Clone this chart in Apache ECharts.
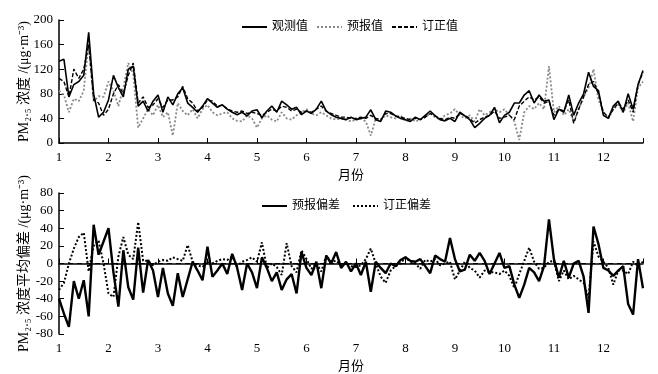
<!DOCTYPE html>
<html>
<head>
<meta charset="utf-8">
<title>PM2.5</title>
<script src="https://cdn.jsdelivr.net/npm/echarts/dist/echarts.min.js"></script>
<style>
    html, body {margin: 0; padding: 0; background: #fff;}
    #pm_chart {width: 658px; height: 374px;}
</style>
</head>
<body>
<div id="pm_chart"></div>
<script>
// 每隔0.1个月取一个值, 1月初到12月下旬
var obsList = [133,136,75,95,100,110,180,80,42,50,
    70,110,90,75,120,125,60,68,52,68,
    78,50,75,62,80,90,65,58,50,60,
    72,65,58,62,55,50,46,50,44,52,
    54,41,52,60,50,68,62,55,58,46,
    52,48,55,68,52,46,42,40,38,42,
    38,40,42,54,38,35,52,50,44,40,
    38,35,42,38,45,52,44,38,36,40,
    35,50,44,38,25,32,40,45,58,33,
    45,50,65,65,78,85,65,78,68,70,
    38,55,50,78,45,65,80,115,92,85,
    45,40,60,68,50,80,55,95,118];   //观测值
var predList = [85,78,50,72,68,85,165,68,76,75,
    100,85,60,90,130,112,25,40,55,45,
    62,42,50,12,65,52,45,55,40,55,
    62,50,45,48,50,40,36,35,45,40,
    25,40,45,38,35,50,40,38,45,50,
    55,48,45,50,45,40,38,40,38,35,
    38,40,35,12,40,38,45,42,40,45,
    35,40,35,38,42,48,42,38,45,48,
    55,45,40,45,35,55,45,50,55,50,
    55,45,35,5,50,60,55,65,55,125,
    50,60,45,55,35,55,75,90,120,70,
    50,40,55,62,50,65,35,90,100];   //预报值
var corrList = [105,100,75,120,105,120,160,70,65,45,
    55,80,95,80,110,130,65,75,58,62,
    72,58,70,70,75,92,72,65,52,58,
    70,68,60,62,55,52,50,52,48,50,
    48,45,50,55,52,60,58,52,55,50,
    52,50,55,60,52,48,45,42,42,40,
    40,42,40,45,40,38,48,48,44,42,
    40,38,40,38,42,48,44,40,38,42,
    40,48,45,40,32,38,42,45,52,40,
    42,45,38,60,68,75,70,75,65,68,
    45,55,52,70,32,55,75,95,100,80,
    50,42,55,65,55,70,50,95,115];   //订正值
var fcBiasList = [-40,-57,-72,-20,-40,-19,-60,44,10,25,
    40,-10,-49,15,-27,-41,18,-33,4,-8,
    -38,-5,-34,-48,-11,-38,-18,2,-8,-19,
    19,-15,-8,0,-12,11,-5,-30,0,-10,
    -28,7,-5,-20,-10,-30,-18,-12,-34,13,
    -5,-13,2,-28,9,0,13,-5,2,-9,
    0,-13,2,-32,2,-5,-11,0,-3,4,
    7,3,2,5,-3,-11,9,5,2,29,
    5,-9,-7,10,3,12,3,-12,0,12,
    -5,-3,-24,-39,-24,-5,-10,-20,-3,50,
    5,-16,3,-16,0,3,-15,-56,42,22,
    -5,-8,-14,-8,-3,-46,-58,5,-28];  //预报偏差
var crBiasList = [-30,-22,0,17,30,35,-9,20,26,0,
    -34,-38,8,30,10,5,47,3,3,-2,
    2,4,3,7,5,3,21,2,-2,-4,
    2,0,3,5,4,8,-3,2,4,7,
    2,24,-5,0,-4,-13,23,-3,-10,15,
    5,-6,0,-9,9,2,3,-2,0,-3,
    -4,-2,5,17,0,-15,-22,-8,-3,0,
    7,2,0,-6,4,2,5,-2,0,2,
    -18,-8,2,-5,-8,-16,-8,-10,-10,-12,
    -8,-14,-28,-12,3,18,2,-6,-5,2,
    3,-20,-8,-18,-14,-18,-22,-39,25,8,
    2,-5,-24,-8,-8,-12,2,-3,2];      //订正偏差

var monthTicks = [1,2,3,4,5,6,7,8,9,10,11,12];
var fontFamily = '"Liberation Serif", "Noto Sans CJK SC", serif';

function toPairs(list) {
    var arr = [];
    for (var i = 0; i < list.length; i++) {
        arr.push([1 + i / 10, list[i]]);   //横坐标为月份
    }
    return arr;
}

function makeXAxis(gridIndex) {
    return {
        type: 'value',
        gridIndex: gridIndex,
        min: 1,
        max: 12.8,
        interval: 1,
        name: '月份',
        nameLocation: 'middle',
        nameGap: 26,
        nameTextStyle: {color: '#000', fontSize: 13, fontFamily: fontFamily},
        axisLine: {lineStyle: {color: '#000', width: 1.5}},
        axisTick: {inside: true, length: 5, lineStyle: {color: '#000'}},
        axisLabel: {
            color: '#000', fontSize: 13, fontFamily: fontFamily, margin: 8,
            formatter: function (v) {
                return monthTicks.indexOf(v) >= 0 ? String(v) : '';
            }
        },
        splitLine: {show: false}
    };
}

function makeYAxis(gridIndex, min, max, interval, name) {
    return {
        type: 'value',
        gridIndex: gridIndex,
        min: min,
        max: max,
        interval: interval,
        name: name,
        nameLocation: 'middle',
        nameGap: 28,
        nameMoveOverlap: false,
        nameTextStyle: {color: '#000', fontSize: 14, fontFamily: fontFamily},
        axisLine: {show: true, lineStyle: {color: '#000', width: 1.5}},
        axisTick: {show: true, inside: true, length: 5, lineStyle: {color: '#000'}},
        axisLabel: {color: '#000', fontSize: 13, fontFamily: fontFamily, margin: 6},
        splitLine: {show: false}
    };
}

var myChart = echarts.init(document.getElementById("pm_chart"));
var option = {
    animation: false,
    backgroundColor: '#fff',
    legend: [{
        data: ['观测值', '预报值', '订正值'],
        left: 236,
        top: 16,
        itemWidth: 25,
        itemHeight: 8,
        itemGap: 8,
        itemStyle: {opacity: 0},
        textStyle: {color: '#000', fontSize: 12, fontFamily: fontFamily}
    }, {
        data: ['预报偏差', '订正偏差'],
        left: 256,
        top: 195,
        itemWidth: 25,
        itemHeight: 8,
        itemGap: 12,
        itemStyle: {opacity: 0},
        textStyle: {color: '#000', fontSize: 12, fontFamily: fontFamily}
    }],
    grid: [
        {left: 59, top: 20, width: 584, height: 123},
        {left: 59, top: 193, width: 584, height: 141}
    ],
    xAxis: [makeXAxis(0), makeXAxis(1)],
    yAxis: [
        makeYAxis(0, 0, 200, 40, 'PM₂.₅ 浓度 /(μg·m⁻³)'),
        makeYAxis(1, -80, 80, 20, 'PM₂.₅ 浓度平均偏差 /(μg·m⁻³)')
    ],
    series: [{
        name: '观测值',
        type: 'line',
        xAxisIndex: 0, yAxisIndex: 0,
        data: toPairs(obsList),
        symbol: 'none',
        itemStyle: {color: '#000'},
        lineStyle: {color: '#000', width: 1.6},
        z: 4
    }, {
        name: '预报值',
        type: 'line',
        xAxisIndex: 0, yAxisIndex: 0,
        data: toPairs(predList),
        symbol: 'none',
        itemStyle: {color: '#888'},
        lineStyle: {color: '#888', width: 1.8, type: [2, 2]},
        z: 2
    }, {
        name: '订正值',
        type: 'line',
        xAxisIndex: 0, yAxisIndex: 0,
        data: toPairs(corrList),
        symbol: 'none',
        itemStyle: {color: '#000'},
        lineStyle: {color: '#000', width: 1.4, type: [4, 2]},
        z: 3
    }, {
        name: '预报偏差',
        type: 'line',
        xAxisIndex: 1, yAxisIndex: 1,
        data: toPairs(fcBiasList),
        symbol: 'none',
        itemStyle: {color: '#000'},
        lineStyle: {color: '#000', width: 2.4},
        z: 3
    }, {
        name: '订正偏差',
        type: 'line',
        xAxisIndex: 1, yAxisIndex: 1,
        data: toPairs(crBiasList),
        symbol: 'none',
        itemStyle: {color: '#000'},
        lineStyle: {color: '#000', width: 2, type: [2, 2]},
        markLine: {
            silent: true,
            symbol: 'none',
            label: {show: false},
            lineStyle: {color: '#000', width: 1, type: [5, 4]},
            data: [{yAxis: 0}]
        },
        z: 2
    }]
};
myChart.setOption(option);
window.addEventListener("resize", function () {
    myChart.resize();
});
</script>
</body>
</html>
